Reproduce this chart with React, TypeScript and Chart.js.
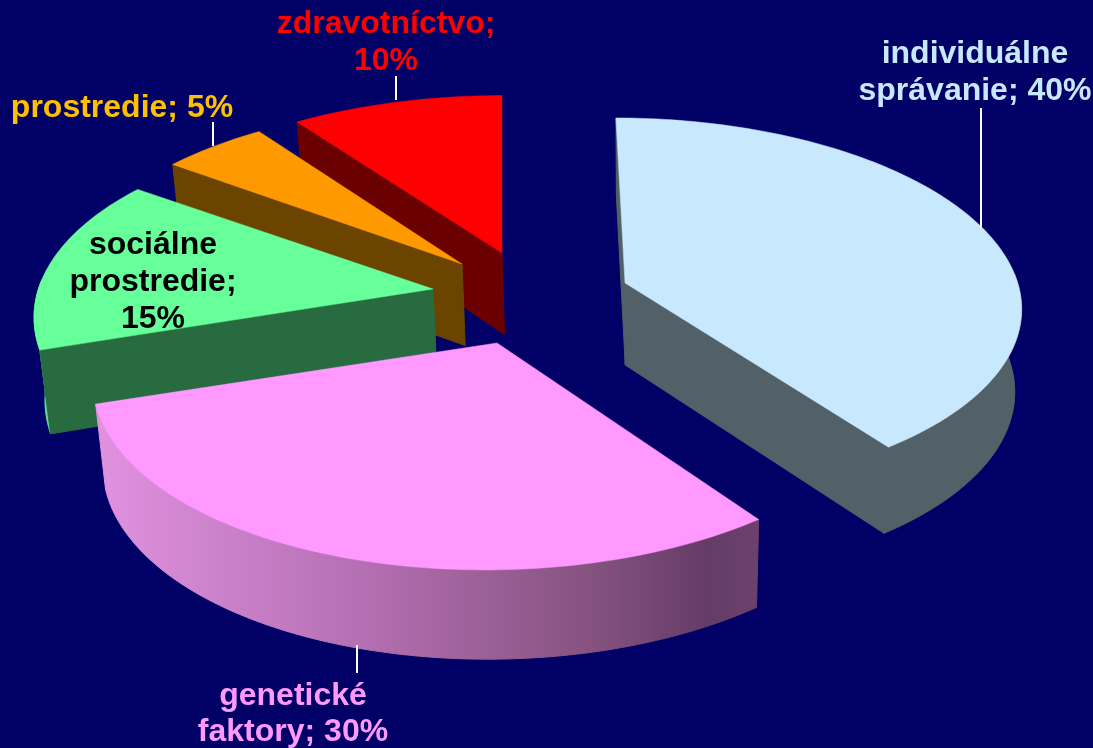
import React, { useEffect, useRef } from "react";
import { Chart, registerables } from "chart.js";

Chart.register(...registerables);

const categories = ["individuálne správanie", "genetické faktory", "sociálne prostredie", "prostredie", "zdravotníctvo"];
const shares = [40, 30, 15, 5, 10];

// Surface colours per slice
const topColors = ["#c8e9fd", "#ff99ff", "#66ff99", "#ff9900", "#ff0000"];
const sideColors = ["#526168", "#8a5588", "#296b40", "#6b4500", "#6b0000"];
const rimColors = ["#526168", "#c47ec4", "#5fe08e", "#6b4500", "#6b0000"];
const labelColors = ["#c8e9fd", "#ff99ff", "#000000", "#ffc000", "#ff0000"];

// Pull-out of each slice from the pie centre, in canvas pixels
const explodeX = [78.5, -49.5, -113.5, -84.5, -44.5];
const explodeY = [-91, -31, -85, -110, -121];

// Projection of each slice: width, depth, perspective strength, sideways lean
const spreadX = [1.05, 1.058, 1.055, 1.055, 1.065];
const spreadY = [0.492, 0.5, 0.5, 0.5, 0.495];
const perspective = [0.115, 0.176, 0.176, 0.176, 0.176];
const lean = [0.027, -0.027, 0.03, 0, 0];

// Label rows, with {v} standing for the slice's value
const labelRows = [
  ["individuálne", "správanie; {v}%"],
  ["genetické", "faktory; {v}%"],
  ["sociálne", "prostredie;", "{v}%"],
  ["prostredie; {v}%"],
  ["zdravotníctvo;", "{v}%"],
];
const labelX = [975, 293, 153, 122, 386];
const labelY = [63, 705, 254, 117, 33];
const labelStep = [37, 36, 37, 0, 37];

// Leader lines: x, from y, to y
const leaderX = [981, 357, 0, 213, 396];
const leaderFrom = [108, 645, 0, 122, 76];
const leaderTo = [228, 673, 0, 146, 100];

const STAGE_W = 1093;
const STAGE_H = 748;
const CONVERGE_X = 640;
const CONVERGE = 0.018;

type Pt = { x: number; y: number };

// Projects a point of the pie's plane (unit radius) onto the canvas.
function projectTop(arc: any, i: number, a: number, r: number): Pt {
  const u = Math.cos(a) * r;
  const v = Math.sin(a) * r;
  const d = 1 - perspective[i] * v;
  const R = arc.outerRadius;
  return {
    x: arc.x + explodeX[i] + (R * (spreadX[i] * u + lean[i] * v)) / d,
    y: arc.y + explodeY[i] + (R * spreadY[i] * v) / d,
  };
}

// The matching point on the underside of the extruded slice.
function lower(p: Pt): Pt {
  return { x: p.x + (CONVERGE_X - p.x) * CONVERGE, y: p.y + 75 + 0.025 * p.y };
}

function fillPath(ctx: CanvasRenderingContext2D, pts: Pt[], fill: string | CanvasGradient, edge = 0.5) {
  ctx.beginPath();
  pts.forEach((p, i) => (i ? ctx.lineTo(p.x, p.y) : ctx.moveTo(p.x, p.y)));
  ctx.closePath();
  ctx.fillStyle = fill;
  ctx.fill();
  ctx.strokeStyle = fill;
  ctx.lineWidth = edge;
  ctx.stroke();
}

function arcSamples(arc: any, i: number, from: number, to: number): Pt[] {
  const steps = Math.max(2, Math.ceil((to - from) / 0.02));
  const out: Pt[] = [];
  for (let s = 0; s <= steps; s++) out.push(projectTop(arc, i, from + ((to - from) * s) / steps, 1));
  return out;
}

function drawSlice(ctx: CanvasRenderingContext2D, arc: any, i: number) {
  const { startAngle: a0, endAngle: a1 } = arc;
  const apex = projectTop(arc, i, a0, 0);

  // Curved outer wall, front-facing part only
  const two = Math.PI * 2;
  const from = ((a0 % two) + two) % two;
  const wrapped = from > Math.PI ? from - two : from;
  const rimFrom = Math.max(wrapped, -0.05);
  const rimTo = Math.min(wrapped + (a1 - a0), Math.PI + 0.05);
  if (rimTo > rimFrom) {
    const rim = arcSamples(arc, i, rimFrom, rimTo);
    let fill: string | CanvasGradient = rimColors[i];
    if (i === 1) {
      const g = ctx.createLinearGradient(96, 0, 760, 0);
      g.addColorStop(0, "#e092e0");
      g.addColorStop(0.4, "#b56fb3");
      g.addColorStop(0.75, "#85527f");
      g.addColorStop(0.92, "#643c66");
      g.addColorStop(1, "#6c416e");
      fill = g;
    }
    fillPath(ctx, [...rim, ...rim.map(lower).reverse()], fill, 1);
  }

  // Radial walls that face the viewer
  const startEdge = projectTop(arc, i, a0, 1);
  const endEdge = projectTop(arc, i, a1, 1);
  if (Math.cos(a0) < 0.01) {
    fillPath(ctx, [apex, startEdge, lower(startEdge), lower(apex)], sideColors[i], 1);
  }
  if (Math.cos(a1) > 0.01) {
    fillPath(ctx, [apex, endEdge, lower(endEdge), lower(apex)], sideColors[i], 1);
  }

  // Top face
  fillPath(ctx, [apex, ...arcSamples(arc, i, a0, a1)], topColors[i]);
}

// Draws the pie's arc elements as extruded slices seen in perspective.
const tiltedPie = {
  id: "tiltedPie",
  beforeDraw(chart: any) {
    const { ctx } = chart;
    ctx.save();
    ctx.fillStyle = "#000066";
    ctx.fillRect(0, 0, chart.width, chart.height);
    ctx.restore();
  },
  beforeDatasetDraw(chart: any) {
    const { ctx } = chart;
    const arcs = chart.getDatasetMeta(0).data;
    ctx.save();
    ctx.lineJoin = "round";
    [4, 3, 2, 0, 1].forEach((i) => drawSlice(ctx, arcs[i], i));
    ctx.restore();
    return false;
  },
  afterDraw(chart: any) {
    const { ctx } = chart;
    ctx.save();
    ctx.strokeStyle = "#ffffff";
    ctx.lineWidth = 2;
    leaderX.forEach((x, i) => {
      if (!x) return;
      ctx.beginPath();
      ctx.moveTo(x, leaderFrom[i]);
      ctx.lineTo(x, leaderTo[i]);
      ctx.stroke();
    });
    ctx.font = 'bold 32px "Liberation Sans", Arial, sans-serif';
    ctx.textAlign = "center";
    ctx.textBaseline = "alphabetic";
    labelRows.forEach((rows, i) => {
      ctx.fillStyle = labelColors[i];
      rows.forEach((row, r) => {
        ctx.fillText(row.replace("{v}", String(shares[i])), labelX[i], labelY[i] + r * labelStep[i]);
      });
    });
    ctx.restore();
  },
};

export default function App() {
  const ref = useRef<HTMLCanvasElement>(null);
  useEffect(() => {
    document.body.style.margin = "0";
    document.body.style.background = "#000066";
    const chart = new Chart(ref.current!, {
      type: "pie",
      data: {
        labels: categories,
        datasets: [{ data: shares, backgroundColor: topColors, borderWidth: 0 }],
      },
      options: {
        responsive: false,
        animation: false,
        rotation: 0,
        plugins: { legend: { display: false }, tooltip: { enabled: false } },
      },
      plugins: [tiltedPie],
    } as any);
    return () => chart.destroy();
  }, []);
  return <canvas ref={ref} width={STAGE_W} height={STAGE_H} style={{ display: "block" }} />;
}
